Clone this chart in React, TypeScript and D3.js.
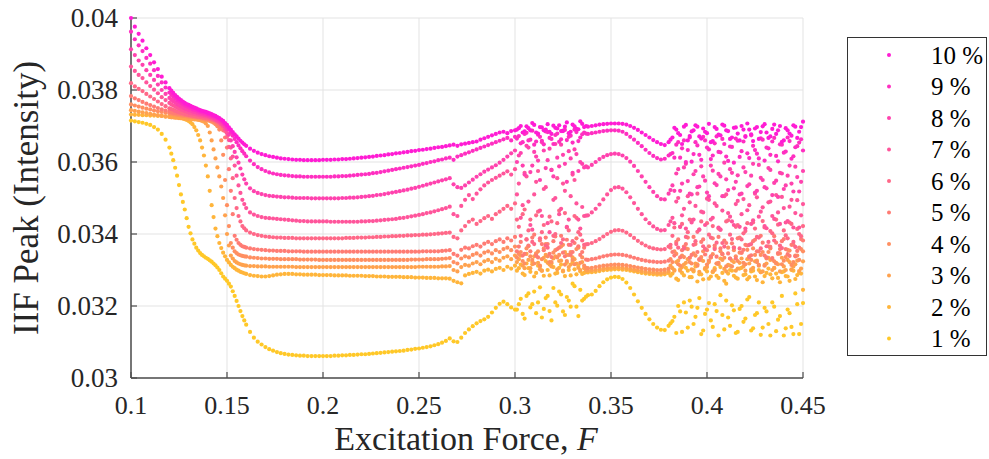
import React from "react";
import * as d3 from "d3";

// main x grid of the sampled response: F = 0.100, 0.102, ... 0.450
const X_START = 0.1;
const X_STEP = 0.002;
// extra samples read at odd thousandths in the steep / scattered zones
const EXTRA_ZONES = [
  { start: 0.121, count: 20 },
  { start: 0.301, count: 19 },
  { start: 0.381, count: 35 },
];

const xTicks = [0.1, 0.15, 0.2, 0.25, 0.3, 0.35, 0.4, 0.45];
const xTickLabels = ["0.1", "0.15", "0.2", "0.25", "0.3", "0.35", "0.4", "0.45"];
const yTicks = [0.03, 0.032, 0.034, 0.036, 0.038, 0.04];
const yTickLabels = ["0.03", "0.032", "0.034", "0.036", "0.038", "0.04"];

const seriesNames = ["1 %", "2 %", "3 %", "4 %", "5 %", "6 %", "7 %", "8 %", "9 %", "10 %"];

// IIF peak values, in units of 1e-5
const p1 = [
  3715, 3713, 3711, 3709, 3706, 3703, 3697, 3690, 3678, 3662,
  3640, 3605, 3562, 3510, 3468, 3420, 3385, 3362, 3347, 3338,
  3331, 3323, 3313, 3300, 3282, 3270, 3254, 3228, 3200, 3172,
  3148, 3128, 3112, 3101, 3093, 3086, 3080, 3076, 3072, 3069,
  3067, 3065, 3064, 3063, 3062, 3062, 3061, 3061, 3061, 3061,
  3061, 3061, 3061, 3062, 3062, 3063, 3063, 3064, 3064, 3065,
  3066, 3066, 3067, 3068, 3069, 3070, 3071, 3072, 3073, 3074,
  3075, 3076, 3078, 3079, 3081, 3082, 3084, 3086, 3088, 3091,
  3094, 3098, 3103, 3110, 3102, 3100, 3112, 3125, 3135, 3144,
  3152, 3158, 3163, 3170, 3182, 3195, 3206, 3212, 3205, 3196,
  3190, 3205, 3178, 3228, 3196, 3240, 3210, 3168, 3222, 3186,
  3250, 3201, 3232, 3175, 3215, 3262, 3198, 3245, 3220, 3230,
  3232, 3242, 3255, 3266, 3274, 3279, 3281, 3280, 3275, 3265,
  3250, 3232, 3213, 3195, 3178, 3163, 3150, 3140, 3134, 3133,
  3145, 3158, 3125, 3185, 3210, 3140, 3198, 3170, 3222, 3132,
  3190, 3160, 3205, 3118, 3175, 3215, 3145, 3188, 3128, 3200,
  3165, 3225, 3138, 3180, 3120, 3195, 3150, 3210, 3130, 3172,
  3118, 3190, 3142, 3235, 3122, 3208,
];
const p2 = [
  3732, 3731, 3731, 3730, 3730, 3729, 3729, 3728, 3728, 3727,
  3726, 3725, 3724, 3722, 3719, 3714, 3705, 3688, 3660, 3618,
  3560, 3480, 3415, 3375, 3348, 3328, 3314, 3305, 3298, 3293,
  3289, 3286, 3284, 3283, 3282, 3282, 3283, 3285, 3287, 3288,
  3289, 3289, 3289, 3288, 3288, 3287, 3287, 3287, 3287, 3286,
  3286, 3286, 3286, 3285, 3285, 3285, 3285, 3284, 3284, 3284,
  3284, 3283, 3283, 3283, 3282, 3282, 3282, 3281, 3281, 3281,
  3281, 3280, 3280, 3280, 3279, 3279, 3279, 3278, 3278, 3278,
  3277, 3277, 3277, 3276, 3270, 3266, 3263, 3285, 3289, 3292,
  3295, 3290, 3298, 3301, 3296, 3303, 3306, 3300, 3309, 3304,
  3312, 3305, 3290, 3318, 3295, 3282, 3312, 3298, 3325, 3285,
  3308, 3292, 3315, 3283, 3300, 3322, 3288, 3296, 3292, 3293,
  3294, 3295, 3297, 3299, 3300, 3301, 3302, 3302, 3301, 3300,
  3298, 3296, 3294, 3292, 3290, 3289, 3288, 3287, 3287, 3288,
  3291, 3290, 3276, 3302, 3285, 3298, 3280, 3310, 3288, 3274,
  3296, 3282, 3305, 3278, 3292, 3262, 3300, 3284, 3276, 3306,
  3288, 3280, 3298, 3272, 3294, 3283, 3304, 3277, 3290, 3266,
  3296, 3282, 3300, 3275, 3292, 3245,
];
const p3 = [
  3744, 3742, 3740, 3738, 3736, 3734, 3732, 3730, 3728, 3726,
  3725, 3724, 3723, 3722, 3721, 3720, 3719, 3718, 3716, 3712,
  3700, 3660, 3610, 3560, 3500, 3400, 3340, 3325, 3318, 3314,
  3312, 3311, 3311, 3310, 3310, 3310, 3309, 3309, 3309, 3309,
  3309, 3309, 3309, 3308, 3308, 3308, 3308, 3308, 3308, 3308,
  3308, 3308, 3308, 3308, 3308, 3308, 3308, 3308, 3308, 3308,
  3308, 3308, 3308, 3308, 3308, 3308, 3308, 3308, 3308, 3308,
  3308, 3308, 3308, 3308, 3308, 3309, 3309, 3309, 3309, 3309,
  3309, 3310, 3310, 3311, 3300, 3296, 3308, 3314, 3312, 3318,
  3322, 3316, 3324, 3328, 3322, 3331, 3326, 3334, 3338, 3330,
  3340, 3330, 3312, 3345, 3305, 3338, 3320, 3298, 3342, 3315,
  3332, 3302, 3326, 3350, 3308, 3335, 3318, 3300, 3305, 3298,
  3299, 3300, 3302, 3304, 3305, 3306, 3307, 3307, 3306, 3305,
  3303, 3301, 3299, 3297, 3295, 3294, 3293, 3292, 3292, 3293,
  3296, 3305, 3322, 3298, 3315, 3330, 3302, 3318, 3295, 3325,
  3308, 3335, 3300, 3316, 3328, 3296, 3312, 3322, 3304, 3332,
  3298, 3318, 3306, 3326, 3294, 3314, 3334, 3300, 3320, 3296,
  3310, 3328, 3302, 3316, 3297, 3324,
];
const p4 = [
  3760, 3757, 3754, 3751, 3748, 3746, 3743, 3741, 3739, 3737,
  3735, 3733, 3731, 3729, 3728, 3726, 3725, 3723, 3721, 3719,
  3716, 3712, 3705, 3690, 3620, 3480, 3375, 3352, 3343, 3339,
  3337, 3335, 3334, 3333, 3332, 3332, 3331, 3331, 3331, 3330,
  3330, 3330, 3330, 3330, 3329, 3329, 3329, 3329, 3329, 3328,
  3328, 3328, 3328, 3328, 3328, 3328, 3328, 3328, 3328, 3328,
  3328, 3328, 3328, 3328, 3328, 3328, 3328, 3328, 3328, 3328,
  3328, 3328, 3328, 3329, 3329, 3329, 3329, 3330, 3330, 3330,
  3330, 3331, 3332, 3333, 3322, 3318, 3332, 3338, 3335, 3342,
  3346, 3340, 3348, 3352, 3346, 3355, 3350, 3358, 3362, 3355,
  3365, 3345, 3325, 3360, 3338, 3318, 3352, 3330, 3372, 3322,
  3348, 3335, 3365, 3315, 3342, 3328, 3358, 3320, 3312, 3305,
  3306, 3308, 3310, 3312, 3313, 3314, 3315, 3315, 3314, 3313,
  3311, 3309, 3307, 3305, 3303, 3302, 3301, 3300, 3300, 3301,
  3304, 3322, 3345, 3312, 3336, 3358, 3318, 3340, 3328, 3352,
  3315, 3335, 3362, 3320, 3344, 3310, 3332, 3355, 3325, 3348,
  3316, 3338, 3360, 3322, 3342, 3312, 3350, 3330, 3318, 3346,
  3326, 3356, 3314, 3340, 3328, 3352,
];
const p5 = [
  3783, 3777, 3772, 3767, 3762, 3758, 3754, 3750, 3746, 3743,
  3740, 3737, 3735, 3733, 3731, 3729, 3727, 3726, 3724, 3722,
  3720, 3717, 3712, 3700, 3688, 3640, 3520, 3395, 3375, 3366,
  3362, 3360, 3358, 3357, 3356, 3355, 3354, 3354, 3353, 3353,
  3353, 3352, 3352, 3352, 3352, 3351, 3351, 3351, 3351, 3351,
  3351, 3351, 3351, 3351, 3351, 3351, 3351, 3351, 3351, 3351,
  3351, 3351, 3351, 3351, 3351, 3351, 3351, 3351, 3351, 3351,
  3351, 3351, 3351, 3351, 3351, 3351, 3352, 3352, 3352, 3352,
  3352, 3353, 3354, 3355, 3345, 3340, 3356, 3362, 3360, 3366,
  3370, 3365, 3373, 3378, 3372, 3380, 3385, 3378, 3388, 3382,
  3392, 3365, 3340, 3385, 3352, 3398, 3335, 3372, 3390, 3345,
  3380, 3358, 3395, 3338, 3370, 3350, 3388, 3342, 3362, 3328,
  3330, 3332, 3335, 3338, 3340, 3342, 3343, 3343, 3342, 3340,
  3337, 3334, 3331, 3328, 3326, 3324, 3323, 3322, 3322, 3323,
  3326, 3350, 3378, 3335, 3365, 3390, 3342, 3372, 3330, 3385,
  3355, 3338, 3368, 3392, 3345, 3375, 3332, 3362, 3388, 3348,
  3370, 3336, 3380, 3352, 3395, 3340, 3366, 3333, 3376, 3358,
  3386, 3344, 3370, 3338, 3362, 3382,
];
const p6 = [
  3819, 3810, 3803, 3797, 3789, 3782, 3775, 3768, 3761, 3755,
  3749, 3745, 3740, 3737, 3734, 3731, 3729, 3727, 3725, 3723,
  3722, 3719, 3715, 3709, 3698, 3670, 3610, 3500, 3450, 3422,
  3410, 3404, 3400, 3397, 3395, 3393, 3392, 3391, 3390, 3390,
  3389, 3389, 3389, 3388, 3388, 3388, 3388, 3388, 3388, 3388,
  3388, 3388, 3388, 3388, 3388, 3388, 3389, 3389, 3389, 3390,
  3390, 3390, 3391, 3391, 3392, 3392, 3393, 3393, 3394, 3394,
  3395, 3395, 3396, 3396, 3397, 3397, 3398, 3398, 3399, 3400,
  3401, 3402, 3403, 3404, 3392, 3388, 3410, 3422, 3434, 3440,
  3428, 3436, 3444, 3450, 3442, 3455, 3462, 3470, 3478, 3470,
  3485, 3420, 3455, 3385, 3440, 3372, 3462, 3405, 3368, 3448,
  3395, 3430, 3375, 3458, 3410, 3380, 3445, 3398, 3370, 3372,
  3375, 3380, 3386, 3393, 3400, 3406, 3410, 3411, 3409, 3404,
  3397, 3389, 3381, 3374, 3368, 3363, 3360, 3358, 3357, 3358,
  3365, 3395, 3372, 3420, 3360, 3405, 3438, 3380, 3412, 3366,
  3430, 3390, 3358, 3415, 3375, 3435, 3398, 3362, 3425, 3385,
  3408, 3370, 3432, 3392, 3360, 3418, 3378, 3402, 3440, 3368,
  3410, 3388, 3428, 3364, 3400, 3422,
];
const p7 = [
  3865, 3853, 3842, 3833, 3821, 3811, 3801, 3791, 3780, 3772,
  3764, 3757, 3751, 3746, 3742, 3738, 3735, 3733, 3730, 3728,
  3726, 3722, 3717, 3710, 3700, 3680, 3640, 3590, 3535, 3495,
  3472, 3460, 3454, 3450, 3447, 3445, 3444, 3443, 3442, 3441,
  3440, 3439, 3438, 3437, 3436, 3436, 3435, 3435, 3435, 3435,
  3435, 3435, 3434, 3434, 3434, 3434, 3434, 3434, 3434, 3434,
  3435, 3435, 3436, 3436, 3437, 3438, 3439, 3440, 3441, 3442,
  3444, 3445, 3447, 3449, 3451, 3453, 3455, 3458, 3460, 3463,
  3466, 3469, 3472, 3476, 3455, 3450, 3478, 3495, 3508, 3497,
  3512, 3524, 3535, 3543, 3550, 3556, 3562, 3568, 3574, 3565,
  3580, 3540, 3480, 3560, 3425, 3510, 3575, 3450, 3530, 3405,
  3495, 3555, 3470, 3520, 3440, 3565, 3485, 3415, 3450, 3452,
  3460, 3470, 3482, 3496, 3510, 3522, 3529, 3530, 3526, 3516,
  3502, 3486, 3470, 3455, 3441, 3430, 3421, 3414, 3410, 3411,
  3425, 3445, 3490, 3420, 3470, 3505, 3432, 3478, 3412, 3460,
  3498, 3440, 3485, 3418, 3465, 3510, 3448, 3425, 3492, 3455,
  3415, 3480, 3438, 3502, 3462, 3422, 3488, 3450, 3508, 3428,
  3472, 3436, 3495, 3458, 3418, 3483,
];
const p8 = [
  3913, 3897, 3882, 3870, 3855, 3842, 3828, 3815, 3800, 3789,
  3778, 3769, 3761, 3755, 3749, 3745, 3741, 3738, 3735, 3732,
  3729, 3725, 3720, 3714, 3705, 3690, 3660, 3628, 3598, 3565,
  3540, 3527, 3519, 3514, 3511, 3508, 3506, 3505, 3504, 3503,
  3502, 3502, 3501, 3500, 3500, 3500, 3500, 3499, 3499, 3499,
  3499, 3499, 3499, 3499, 3499, 3500, 3500, 3501, 3501, 3502,
  3503, 3504, 3505, 3506, 3508, 3509, 3511, 3513, 3515, 3517,
  3519, 3521, 3523, 3526, 3528, 3531, 3534, 3537, 3540, 3543,
  3546, 3549, 3552, 3555, 3538, 3530, 3528, 3535, 3543, 3551,
  3559, 3566, 3573, 3579, 3585, 3591, 3598, 3606, 3615, 3624,
  3632, 3618, 3590, 3645, 3572, 3628, 3604, 3655, 3583, 3637,
  3560, 3612, 3648, 3595, 3630, 3570, 3622, 3600, 3585, 3585,
  3592, 3600, 3608, 3614, 3619, 3622, 3623, 3622, 3618, 3611,
  3601, 3589, 3575, 3560, 3545, 3530, 3517, 3505, 3497, 3496,
  3512, 3535, 3568, 3520, 3585, 3547, 3510, 3575, 3532, 3560,
  3515, 3590, 3541, 3567, 3505, 3552, 3580, 3527, 3563, 3512,
  3572, 3538, 3595, 3520, 3556, 3530, 3583, 3508, 3548, 3570,
  3525, 3562, 3540, 3587, 3518, 3575,
];
const p9 = [
  3962, 3941, 3924, 3908, 3889, 3873, 3855, 3839, 3821, 3807,
  3793, 3782, 3772, 3765, 3758, 3753, 3747, 3744, 3739, 3737,
  3733, 3729, 3725, 3719, 3711, 3698, 3682, 3664, 3646, 3630,
  3616, 3604, 3594, 3586, 3580, 3575, 3571, 3568, 3566, 3564,
  3563, 3562, 3561, 3560, 3560, 3559, 3559, 3559, 3559, 3559,
  3559, 3559, 3559, 3560, 3560, 3561, 3561, 3562, 3563, 3564,
  3565, 3566, 3567, 3569, 3570, 3572, 3574, 3576, 3578, 3580,
  3582, 3584, 3586, 3588, 3590, 3592, 3595, 3597, 3600, 3602,
  3605, 3607, 3610, 3612, 3606, 3615, 3619, 3623, 3627, 3631,
  3635, 3639, 3643, 3647, 3651, 3655, 3659, 3663, 3667, 3660,
  3670, 3672, 3655, 3681, 3662, 3648, 3676, 3659, 3685, 3667,
  3650, 3679, 3663, 3689, 3670, 3654, 3683, 3668, 3682, 3678,
  3680, 3682, 3684, 3686, 3687, 3688, 3688, 3687, 3684, 3678,
  3670, 3662, 3653, 3644, 3634, 3625, 3617, 3611, 3607, 3609,
  3618, 3625, 3648, 3612, 3660, 3633, 3601, 3655, 3620, 3670,
  3640, 3608, 3652, 3628, 3664, 3615, 3643, 3598, 3659, 3630,
  3672, 3611, 3645, 3623, 3666, 3604, 3638, 3657, 3617, 3649,
  3626, 3668, 3609, 3641, 3654, 3632,
];
const p10 = [
  4000, 3976, 3956, 3937, 3916, 3897, 3877, 3858, 3837, 3821,
  3805, 3792, 3781, 3772, 3764, 3759, 3753, 3749, 3744, 3741,
  3737, 3733, 3728, 3722, 3714, 3703, 3690, 3677, 3665, 3654,
  3645, 3637, 3631, 3626, 3622, 3619, 3616, 3614, 3612, 3610,
  3609, 3608, 3607, 3606, 3606, 3605, 3605, 3605, 3605, 3605,
  3606, 3606, 3606, 3607, 3607, 3608, 3608, 3609, 3610, 3611,
  3612, 3613, 3614, 3615, 3617, 3618, 3619, 3621, 3622, 3624,
  3625, 3627, 3628, 3630, 3631, 3633, 3634, 3636, 3637, 3639,
  3641, 3642, 3644, 3646, 3648, 3645, 3649, 3651, 3653, 3655,
  3657, 3662, 3666, 3670, 3674, 3678, 3682, 3684, 3680, 3686,
  3688, 3694, 3682, 3699, 3688, 3703, 3679, 3696, 3690, 3684,
  3701, 3693, 3686, 3698, 3680, 3704, 3692, 3713, 3697, 3698,
  3700, 3702, 3704, 3705, 3706, 3707, 3707, 3707, 3706, 3704,
  3700, 3695, 3689, 3682, 3675, 3668, 3661, 3655, 3650, 3647,
  3655, 3668, 3690, 3675, 3698, 3660, 3685, 3702, 3671, 3693,
  3680, 3655, 3697, 3676, 3704, 3688, 3664, 3695, 3679, 3700,
  3670, 3690, 3658, 3697, 3683, 3705, 3667, 3692, 3678, 3700,
  3660, 3688, 3673, 3698, 3684, 3712,
];

// extra samples (zones: 0.121-0.159, 0.301-0.337, 0.381-0.449), units of 1e-5
const e1 = [
  3623, 3584, 3536, 3489, 3444, 3402, 3373, 3354, 3342, 3334,
  3327, 3318, 3307, 3291, 3276, 3262, 3241, 3214, 3186, 3160,
  3190, 3220, 3165, 3235, 3205, 3180, 3252, 3192, 3228, 3160,
  3210, 3240, 3185, 3225, 3198, 3255, 3172, 3215, 3226,
  3152, 3170, 3200, 3128, 3182, 3215, 3150, 3195, 3122, 3178,
  3208, 3142, 3186, 3230, 3135, 3168, 3202, 3125, 3192, 3156,
  3218, 3132, 3175, 3210, 3140, 3185, 3118, 3198, 3162, 3228,
  3138, 3180, 3122, 3205, 3150,
];
const e2 = [
  3725, 3724, 3723, 3721, 3717, 3710, 3697, 3675, 3640, 3590,
  3520, 3447, 3394, 3361, 3338, 3321, 3309, 3301, 3295, 3291,
  3298, 3315, 3286, 3305, 3322, 3292, 3310, 3284, 3300, 3318,
  3290, 3306, 3296, 3320, 3285, 3302, 3312, 3289, 3294,
  3284, 3300, 3272, 3292, 3306, 3280, 3296, 3268, 3288, 3302,
  3276, 3294, 3284, 3308, 3270, 3290, 3298, 3279, 3304, 3286,
  3274, 3296, 3282, 3300, 3266, 3292, 3288, 3305, 3278, 3294,
  3283, 3270, 3298, 3286, 3290,
];
const e3 = [
  3724, 3723, 3722, 3721, 3720, 3719, 3718, 3717, 3714, 3707,
  3682, 3635, 3585, 3532, 3452, 3368, 3332, 3321, 3316, 3313,
  3322, 3340, 3305, 3328, 3316, 3346, 3302, 3334, 3320, 3310,
  3338, 3325, 3298, 3342, 3315, 3330, 3306, 3322, 3299,
  3312, 3298, 3326, 3308, 3320, 3334, 3300, 3316, 3328, 3305,
  3322, 3296, 3318, 3332, 3303, 3314, 3326, 3298, 3320, 3310,
  3330, 3302, 3324, 3312, 3296, 3318, 3328, 3306, 3316, 3334,
  3300, 3322, 3310, 3326, 3304,
];
const e4 = [
  3734, 3732, 3730, 3728, 3727, 3725, 3724, 3722, 3720, 3717,
  3714, 3709, 3699, 3660, 3550, 3422, 3362, 3347, 3341, 3338,
  3335, 3350, 3318, 3366, 3328, 3345, 3312, 3360, 3338, 3322,
  3355, 3342, 3370, 3325, 3350, 3316, 3362, 3335, 3306,
  3330, 3352, 3316, 3340, 3360, 3322, 3346, 3312, 3336, 3358,
  3326, 3344, 3318, 3352, 3334, 3362, 3310, 3338, 3348, 3320,
  3356, 3328, 3342, 3314, 3350, 3332, 3360, 3324, 3345, 3316,
  3336, 3354, 3322, 3340, 3358,
];
const e5 = [
  3738, 3736, 3734, 3732, 3730, 3728, 3726, 3725, 3723, 3721,
  3718, 3715, 3706, 3694, 3668, 3580, 3455, 3384, 3370, 3364,
  3352, 3378, 3345, 3368, 3390, 3340, 3382, 3355, 3372, 3336,
  3393, 3362, 3348, 3384, 3342, 3375, 3366, 3350, 3329,
  3362, 3340, 3385, 3355, 3372, 3334, 3392, 3350, 3378, 3343,
  3366, 3388, 3337, 3360, 3382, 3346, 3374, 3332, 3390, 3356,
  3368, 3341, 3384, 3352, 3376, 3335, 3364, 3394, 3347, 3380,
  3358, 3339, 3370, 3353, 3386,
];
const e6 = [
  3747, 3742, 3738, 3735, 3732, 3730, 3728, 3726, 3724, 3722,
  3720, 3717, 3712, 3704, 3686, 3642, 3555, 3472, 3435, 3416,
  3440, 3395, 3468, 3410, 3378, 3452, 3388, 3425, 3362, 3435,
  3400, 3465, 3385, 3418, 3370, 3450, 3405, 3382, 3371,
  3370, 3418, 3362, 3428, 3392, 3440, 3370, 3406, 3435, 3358,
  3398, 3422, 3376, 3412, 3365, 3438, 3386, 3420, 3360, 3402,
  3430, 3372, 3415, 3390, 3436, 3366, 3408, 3382, 3426, 3361,
  3396, 3432, 3378, 3414, 3394,
];
const e7 = [
  3760, 3754, 3748, 3744, 3740, 3736, 3734, 3731, 3729, 3727,
  3724, 3720, 3714, 3705, 3691, 3661, 3615, 3562, 3514, 3483,
  3510, 3445, 3570, 3490, 3412, 3545, 3465, 3525, 3430, 3578,
  3500, 3455, 3540, 3420, 3505, 3550, 3440, 3475, 3451,
  3435, 3430, 3500, 3452, 3415, 3488, 3440, 3512, 3462, 3425,
  3495, 3445, 3478, 3412, 3505, 3458, 3435, 3483, 3420, 3497,
  3466, 3428, 3512, 3448, 3474, 3416, 3490, 3442, 3460, 3503,
  3432, 3476, 3418, 3494, 3452,
];
const e8 = [
  3773, 3765, 3758, 3752, 3747, 3743, 3739, 3736, 3733, 3730,
  3727, 3722, 3717, 3710, 3698, 3676, 3644, 3613, 3582, 3552,
  3600, 3625, 3565, 3640, 3590, 3615, 3550, 3632, 3605, 3578,
  3650, 3588, 3620, 3545, 3610, 3635, 3575, 3595, 3588,
  3522, 3520, 3580, 3540, 3595, 3512, 3566, 3530, 3588, 3548,
  3505, 3576, 3536, 3560, 3598, 3522, 3570, 3545, 3510, 3585,
  3533, 3562, 3515, 3592, 3550, 3527, 3578, 3542, 3503, 3568,
  3535, 3590, 3518, 3558, 3545,
];
const e9 = [
  3787, 3777, 3768, 3761, 3755, 3750, 3745, 3741, 3738, 3735,
  3731, 3727, 3722, 3715, 3705, 3690, 3673, 3655, 3638, 3623,
  3665, 3652, 3678, 3660, 3687, 3657, 3670, 3649, 3683, 3664,
  3675, 3656, 3686, 3661, 3673, 3690, 3658, 3677, 3679,
  3622, 3612, 3655, 3638, 3600, 3668, 3622, 3646, 3606, 3660,
  3635, 3618, 3671, 3627, 3650, 3603, 3642, 3665, 3614, 3657,
  3624, 3674, 3633, 3610, 3662, 3640, 3620, 3667, 3602, 3648,
  3629, 3658, 3616, 3644, 3663,
];
const e10 = [
  3798, 3786, 3776, 3768, 3761, 3756, 3751, 3746, 3742, 3739,
  3735, 3730, 3725, 3718, 3708, 3696, 3683, 3671, 3659, 3649,
  3690, 3700, 3685, 3694, 3708, 3682, 3697, 3688, 3705, 3678,
  3695, 3702, 3687, 3710, 3684, 3699, 3691, 3706, 3700,
  3662, 3695, 3680, 3650, 3703, 3672, 3688, 3698, 3665, 3684,
  3706, 3658, 3692, 3674, 3701, 3686, 3668, 3696, 3660, 3690,
  3707, 3677, 3693, 3664, 3699, 3682, 3671, 3704, 3688, 3656,
  3694, 3679, 3702, 3667, 3697,
];

const seriesValues = [p1, p2, p3, p4, p5, p6, p7, p8, p9, p10];
const seriesExtra = [e1, e2, e3, e4, e5, e6, e7, e8, e9, e10];

const W = 989;
const H = 459;
const FONT = "'Liberation Serif', 'Times New Roman', serif";

function extraX(j: number): number {
  let k = j;
  for (const z of EXTRA_ZONES) {
    if (k < z.count) return z.start + k * X_STEP;
    k -= z.count;
  }
  return NaN;
}

export default function App() {
  const x = d3.scaleLinear().domain([0.1, 0.45]).range([131, 803]);
  const y = d3.scaleLinear().domain([0.03, 0.04]).range([378, 18]);
  const color = (k: number) =>
    d3.interpolateRgb("rgb(255,200,40)", "rgb(255,28,212)")(k / (seriesNames.length - 1));

  const legendOrder = seriesNames.map((_, k) => k).reverse();

  return (
    <div style={{ position: "absolute", left: 0, top: 0 }}>
      <svg width={W} height={H} style={{ display: "block", background: "#fff" }}>
        <rect x={0} y={0} width={W} height={H} fill="#fff" />
        {/* grid */}
        {xTicks.map((t) => (
          <line key={"gx" + t} x1={x(t)} x2={x(t)} y1={y(0.03)} y2={y(0.04)} stroke="#e3e3e3" strokeWidth={1} />
        ))}
        {yTicks.map((t) => (
          <line key={"gy" + t} x1={x(0.1)} x2={x(0.45)} y1={y(t)} y2={y(t)} stroke="#e3e3e3" strokeWidth={1} />
        ))}
        {/* axes */}
        <line x1={x(0.1)} x2={x(0.45)} y1={y(0.03)} y2={y(0.03)} stroke="#4d4d4d" strokeWidth={1.5} />
        <line x1={x(0.1)} x2={x(0.1)} y1={y(0.03)} y2={y(0.04)} stroke="#4d4d4d" strokeWidth={1.5} />
        {xTicks.map((t) => (
          <line key={"tx" + t} x1={x(t)} x2={x(t)} y1={y(0.03)} y2={y(0.03) - 6} stroke="#4d4d4d" strokeWidth={1.2} />
        ))}
        {yTicks.map((t) => (
          <line key={"ty" + t} x1={x(0.1)} x2={x(0.1) + 6} y1={y(t)} y2={y(t)} stroke="#4d4d4d" strokeWidth={1.2} />
        ))}
        {/* data */}
        {seriesValues.map((vals, k) => (
          <g key={"s" + k} fill={color(k)}>
            {vals.map((v, i) => (
              <circle key={"m" + i} cx={x(X_START + i * X_STEP)} cy={y(v / 1e5)} r={2.1} />
            ))}
            {seriesExtra[k].map((v, j) => (
              <circle key={"e" + j} cx={x(extraX(j))} cy={y(v / 1e5)} r={2.1} />
            ))}
          </g>
        ))}
        {/* tick labels */}
        {xTicks.map((t, i) => (
          <text key={"lx" + t} x={x(t)} y={414} textAnchor="middle" fontFamily={FONT} fontSize={26} fill="#262626">
            {xTickLabels[i]}
          </text>
        ))}
        {yTicks.map((t, i) => (
          <text key={"ly" + t} x={118} y={y(t) + 9} textAnchor="end" fontFamily={FONT} fontSize={27} fill="#262626">
            {yTickLabels[i]}
          </text>
        ))}
        {/* axis titles */}
        <text x={466} y={450} textAnchor="middle" fontFamily={FONT} fontSize={34} fill="#262626">
          Excitation Force, <tspan fontStyle="italic">F</tspan>
        </text>
        <text
          transform={`translate(38,${(y(0.03) + y(0.04)) / 2}) rotate(-90)`}
          textAnchor="middle"
          fontFamily={FONT}
          fontSize={35}
          fill="#262626"
        >
          IIF Peak (Intensity)
        </text>
        {/* legend */}
        <rect x={847.5} y={37.5} width={139} height={318} fill="#fff" stroke="#333" strokeWidth={1} />
        {legendOrder.map((k, j) => (
          <g key={"lg" + k}>
            <circle cx={889} cy={55 + j * 31.5} r={2} fill={color(k)} />
            <text x={931} y={55 + j * 31.5 + 8.5} fontFamily={FONT} fontSize={25} fill="#000">
              {seriesNames[k]}
            </text>
          </g>
        ))}
      </svg>
    </div>
  );
}
